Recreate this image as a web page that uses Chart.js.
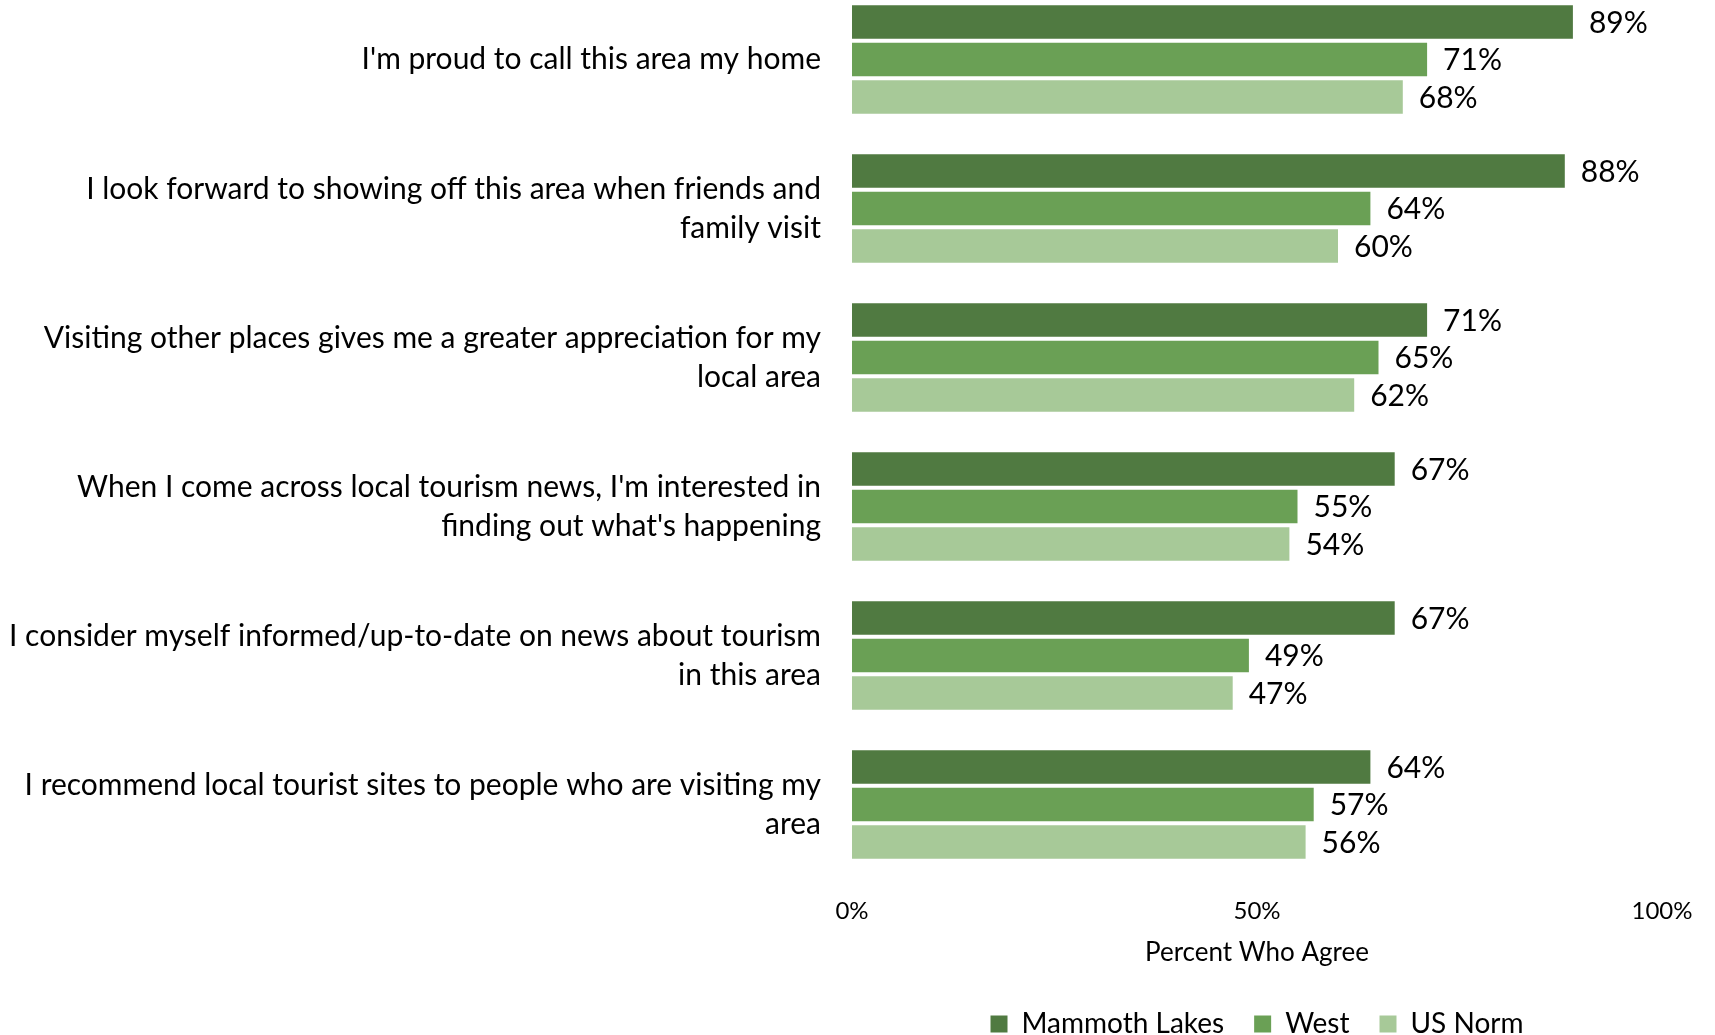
<!DOCTYPE html>
<html>
<head>
<meta charset="utf-8">
<script src="https://cdn.jsdelivr.net/npm/chart.js@4/dist/chart.umd.min.js"></script>
<style>
  html, body { margin: 0; padding: 0; background: #ffffff; overflow: hidden; width: 1715px; height: 1035px; }
  #wrap { position: absolute; left: 0; top: -15px; width: 1715px; height: 1082px; }
</style>
</head>
<body>
<div id="wrap"><canvas id="chart" width="1715" height="1082"></canvas></div>
<script>
// Survey statements (wrapped as they appear on the axis)
const categories = [
  ["I'm proud to call this area my home"],
  ["I look forward to showing off this area when friends and", "family visit"],
  ["Visiting other places gives me a greater appreciation for my", "local area"],
  ["When I come across local tourism news, I'm interested in", "finding out what's happening"],
  ["I consider myself informed/up-to-date on news about tourism", "in this area"],
  ["I recommend local tourist sites to people who are visiting my", "area"]
];

// Percent who agree, per group
const mammothLakes = [89, 88, 71, 67, 67, 64];
const west = [71, 64, 65, 55, 49, 57];
const usNorm = [68, 60, 62, 54, 47, 56];

const seriesNames = ["Mammoth Lakes", "West", "US Norm"];
const seriesColors = ["#507a41", "#6aa055", "#a7c998"];
const xTickValues = [0, 50, 100];

const FONT = "Lato, 'Open Sans', sans-serif";

// Writes each bar's value just past its end
const valueLabels = {
  id: "valueLabels",
  afterDatasetsDraw(chart) {
    const ctx = chart.ctx;
    ctx.save();
    ctx.font = "30px " + FONT;
    ctx.fillStyle = "#000000";
    ctx.textAlign = "left";
    ctx.textBaseline = "middle";
    chart.data.datasets.forEach((ds, i) => {
      const meta = chart.getDatasetMeta(i);
      meta.data.forEach((bar, j) => {
        ctx.fillText(ds.data[j] + "%", bar.x + 16, bar.y + 1);
      });
    });
    ctx.restore();
  }
};

new Chart(document.getElementById("chart"), {
  type: "bar",
  data: {
    labels: categories,
    datasets: [mammothLakes, west, usNorm].map((d, i) => ({
      label: seriesNames[i],
      data: d,
      backgroundColor: seriesColors[i],
      borderWidth: 0,
      barPercentage: 0.89,
      categoryPercentage: 0.755
    }))
  },
  options: {
    indexAxis: "y",
    responsive: false,
    animation: false,
    layout: { padding: { left: 0, right: 53, top: 0, bottom: 19 } },
    plugins: {
      tooltip: { enabled: false },
      legend: {
        position: "bottom",
        fullSize: false,
        labels: {
          color: "#000000",
          font: { family: FONT, size: 28 },
          boxWidth: 17,
          boxHeight: 17,
          padding: 30
        }
      }
    },
    scales: {
      y: {
        grid: { display: false, drawTicks: false },
        border: { display: false },
        ticks: {
          color: "#000000",
          font: { family: FONT, size: 30, lineHeight: 1.3 },
          padding: 31
        },
        afterFit(scale) {
          scale.width = 852;
          scale.paddingTop = 0;
          scale.paddingBottom = 0;
        }
      },
      x: {
        min: 0,
        max: 100,
        grid: { display: false, drawTicks: false },
        border: { display: false },
        afterBuildTicks(scale) { scale.ticks = xTickValues.map(v => ({ value: v })); },
        afterFit(scale) { scale.height = 101; },
        ticks: {
          color: "#000000",
          font: { family: FONT, size: 24 },
          padding: 18,
          maxRotation: 0,
          callback: v => v + "%"
        },
        title: {
          display: true,
          text: "Percent Who Agree",
          color: "#000000",
          font: { family: FONT, size: 26 },
          padding: { top: 10.5, bottom: 12 }
        }
      }
    }
  },
  plugins: [valueLabels]
});
</script>
</body>
</html>
